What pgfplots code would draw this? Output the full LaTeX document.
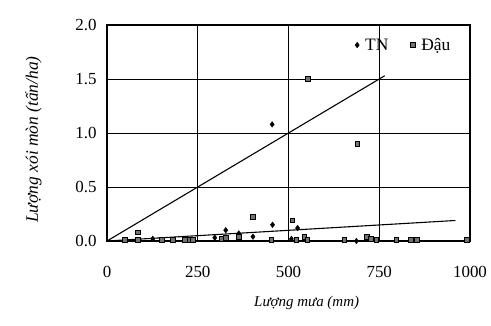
\documentclass[border=0pt]{standalone}
\usepackage{pgfplots}
\pgfplotsset{compat=1.18}
\usepackage{fontspec}
\setmainfont{Liberation Serif}
\begin{document}
\begin{tikzpicture}
\path[use as bounding box] (-107bp,-85bp) rectangle (384bp,241bp);
\begin{axis}[
  at={(0,0)}, anchor=south west,
  scale only axis, width=363bp, height=216bp,
  xmin=0, xmax=1000, ymin=0, ymax=2,
  xtick={0,250,500,750,1000}, ytick={0,0.5,1,1.5,2},
  yticklabel style={/pgf/number format/fixed, /pgf/number format/fixed zerofill, /pgf/number format/precision=1, xshift=-7bp},
  xticklabel style={/pgf/number format/1000 sep={}, yshift=-22bp},
  /pgf/number format/assume math mode=true,
  major tick length=0pt,
  tick label style={font=\fontsize{17}{20}\selectfont},
  axis line style={line width=1.4pt},
  grid=major,
  major grid style={black, line width=0.7pt},
  xlabel={\textit{Lượng mưa (mm)}},
  ylabel={\textit{Lượng xói mòn (tấn/ha)}},
  xlabel style={font=\fontsize{15}{17}\selectfont, at={(axis description cs:0.55,0)}, anchor=north, yshift=-52bp},
  ylabel style={font=\fontsize{17.5}{20}\selectfont, at={(axis description cs:0,0.47)}, anchor=south, yshift=62bp},
  legend image code/.code={\draw[mark repeat=2,mark phase=2,#1] plot coordinates {(0bp,0bp) (5bp,0bp) (10bp,0bp)};},
  legend style={draw=none, fill=none, at={(0.96,0.907)}, anchor=east,
    font=\fontsize{17.5}{20}\selectfont, legend columns=2,
    /tikz/every even column/.append style={column sep=20bp}},
  legend cell align=left,
]
\addplot[only marks, mark=diamond*, mark size=2.8pt, black] coordinates {
(126,0.02) (297,0.03) (327,0.10) (363,0.07) (402,0.04) (455,1.08) (456,0.15)
(508,0.02) (525,0.12) (687,0.00)
};
\addlegendentry{\hspace{4bp}TN}
\addplot[only marks, mark=square*, mark size=2.4pt, mark options={fill=black!55, draw=black, line width=0.8pt}] coordinates {
(49,0.01) (85,0.08) (85,0.01) (151,0.01) (181,0.01) (214,0.01) (228,0.01) (236,0.01)
(316,0.02) (327,0.03) (363,0.04) (402,0.22) (453,0.01) (511,0.19) (522,0.01) (544,0.04)
(552,0.01) (553,1.50) (654,0.01) (690,0.90) (717,0.04) (728,0.02) (742,0.01) (797,0.01)
(838,0.01) (854,0.01) (992,0.01)
};
\addlegendentry{\hspace{4bp}Đậu}
\addplot[black, line width=1.1pt, forget plot] coordinates {(0,0) (765,1.53)};
\addplot[black, line width=1.1pt, forget plot] coordinates {(0,0) (960,0.19)};
\end{axis}
\end{tikzpicture}
\end{document}
